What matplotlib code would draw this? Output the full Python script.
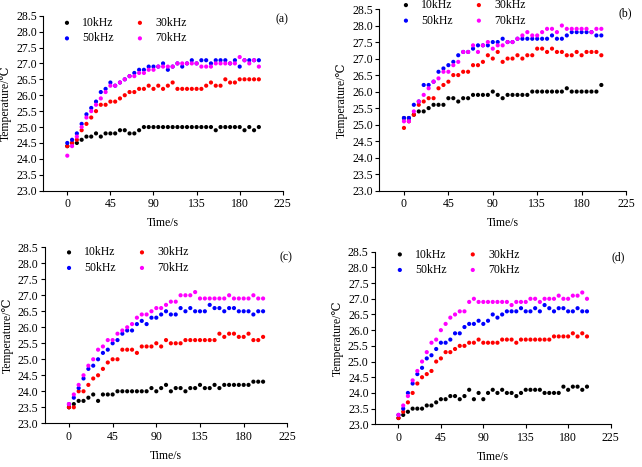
import matplotlib
matplotlib.use("Agg")
import matplotlib.pyplot as plt

plt.rcParams["font.family"] = ["Liberation Serif", "DejaVu Serif"]

TIME = [0, 5, 10, 15, 20, 25, 30, 35, 40, 45, 50, 55, 60, 65, 70, 75, 80, 85, 90, 95,
        100, 105, 110, 115, 120, 125, 130, 135, 140, 145, 150, 155, 160, 165, 170, 175,
        180, 185, 190, 195, 200]

LABELS = ["10kHz", "30kHz", "50kHz", "70kHz"]
COLORS = ["black", "#ff0000", "#0000ff", "#ff00ff"]

# panel (a)
A10 = [24.4, 24.5, 24.5, 24.6, 24.7, 24.7, 24.8, 24.7, 24.8, 24.8, 24.8, 24.9, 24.9, 24.8, 24.8, 24.9, 25.0, 25.0, 25.0, 25.0,
       25.0, 25.0, 25.0, 25.0, 25.0, 25.0, 25.0, 25.0, 25.0, 25.0, 25.0, 24.9, 25.0, 25.0, 25.0, 25.0, 25.0, 24.9, 25.0, 24.9, 25.0]
A30 = [24.4, 24.5, 24.6, 24.9, 25.1, 25.3, 25.5, 25.7, 25.7, 25.8, 25.8, 25.9, 26.0, 26.1, 26.1, 26.2, 26.2, 26.3, 26.2, 26.3,
       26.2, 26.3, 26.4, 26.2, 26.2, 26.2, 26.2, 26.2, 26.2, 26.3, 26.4, 26.3, 26.3, 26.5, 26.4, 26.4, 26.5, 26.5, 26.5, 26.5, 26.5]
A50 = [24.5, 24.6, 24.8, 25.1, 25.4, 25.6, 25.8, 26.1, 26.2, 26.4, 26.3, 26.4, 26.5, 26.6, 26.7, 26.8, 26.8, 26.9, 26.9, 26.9,
       27.0, 26.8, 26.9, 27.0, 26.9, 27.0, 27.1, 27.0, 27.1, 27.1, 27.0, 27.1, 27.1, 27.1, 27.0, 27.1, 26.9, 27.1, 27.1, 27.1, 27.1]
A70 = [24.1, 24.4, 24.7, 25.0, 25.3, 25.5, 25.7, 25.9, 26.1, 26.3, 26.3, 26.4, 26.5, 26.6, 26.6, 26.7, 26.7, 26.8, 26.8, 26.9,
       26.9, 26.9, 26.9, 27.0, 27.0, 27.0, 27.0, 27.0, 26.9, 26.9, 26.9, 27.0, 27.0, 27.0, 27.0, 27.0, 27.2, 27.1, 27.0, 27.1, 26.9]

# panel (b)
B10 = [25.2, 25.2, 25.3, 25.4, 25.4, 25.5, 25.6, 25.6, 25.6, 25.8, 25.8, 25.7, 25.8, 25.8, 25.9, 25.9, 25.9, 25.9, 26.0, 25.9,
       25.8, 25.9, 25.9, 25.9, 25.9, 25.9, 26.0, 26.0, 26.0, 26.0, 26.0, 26.0, 26.0, 26.1, 26.0, 26.0, 26.0, 26.0, 26.0, 26.0, 26.2]
B30 = [24.9, 25.1, 25.3, 25.6, 25.7, 25.8, 25.8, 26.1, 26.2, 26.3, 26.5, 26.5, 26.6, 26.6, 26.8, 26.8, 26.9, 27.1, 27.0, 27.2,
       26.9, 27.0, 27.0, 27.1, 27.0, 27.1, 27.1, 27.3, 27.3, 27.2, 27.3, 27.2, 27.2, 27.1, 27.1, 27.2, 27.1, 27.2, 27.2, 27.2, 27.1]
B50 = [25.2, 25.2, 25.6, 25.7, 26.2, 26.2, 26.3, 26.6, 26.7, 26.8, 26.9, 27.1, 27.2, 27.2, 27.3, 27.4, 27.4, 27.4, 27.5, 27.5,
       27.6, 27.5, 27.5, 27.6, 27.6, 27.6, 27.6, 27.6, 27.6, 27.6, 27.7, 27.6, 27.6, 27.7, 27.8, 27.8, 27.8, 27.8, 27.8, 27.7, 27.7]
B70 = [25.1, 25.1, 25.4, 25.7, 25.9, 26.1, 26.3, 26.4, 26.6, 26.6, 26.8, 26.9, 27.2, 27.2, 27.4, 27.2, 27.4, 27.5, 27.3, 27.4,
       27.4, 27.5, 27.5, 27.6, 27.7, 27.8, 27.7, 27.7, 27.8, 27.9, 27.9, 27.8, 28.0, 27.9, 27.9, 27.9, 27.9, 27.9, 27.8, 27.9, 27.9]

# panel (c)
C10 = [23.5, 23.6, 23.7, 23.7, 23.8, 23.9, 23.7, 23.9, 23.9, 23.9, 24.0, 24.0, 24.0, 24.0, 24.0, 24.0, 24.0, 24.1, 24.0, 24.1,
       24.2, 24.0, 24.1, 24.1, 24.0, 24.1, 24.1, 24.2, 24.1, 24.1, 24.2, 24.1, 24.2, 24.2, 24.2, 24.2, 24.2, 24.2, 24.3, 24.3, 24.3]
C30 = [23.5, 23.5, 24.0, 24.0, 24.2, 24.4, 24.5, 24.7, 24.9, 25.0, 25.0, 25.3, 25.3, 25.3, 25.2, 25.4, 25.4, 25.4, 25.5, 25.4,
       25.6, 25.5, 25.5, 25.5, 25.6, 25.6, 25.6, 25.6, 25.6, 25.6, 25.6, 25.8, 25.7, 25.8, 25.8, 25.7, 25.7, 25.8, 25.6, 25.6, 25.7]
C50 = [23.6, 23.8, 24.1, 24.4, 24.7, 24.8, 25.0, 25.2, 25.3, 25.5, 25.6, 25.8, 25.9, 25.9, 26.1, 26.2, 26.1, 26.3, 26.3, 26.4,
       26.5, 26.4, 26.4, 26.6, 26.5, 26.6, 26.5, 26.5, 26.5, 26.7, 26.6, 26.6, 26.5, 26.6, 26.6, 26.5, 26.5, 26.5, 26.4, 26.5, 26.5]
C70 = [23.6, 23.9, 24.2, 24.5, 24.8, 25.0, 25.3, 25.4, 25.6, 25.6, 25.8, 25.9, 26.0, 26.1, 26.3, 26.4, 26.4, 26.5, 26.6, 26.6,
       26.7, 26.8, 26.8, 27.0, 27.0, 27.0, 27.1, 26.9, 26.9, 26.9, 26.9, 26.9, 26.9, 27.0, 26.9, 26.9, 26.9, 26.9, 27.0, 26.9, 26.9]

# panel (d)
D10 = [23.2, 23.3, 23.4, 23.5, 23.5, 23.5, 23.6, 23.6, 23.7, 23.8, 23.8, 23.9, 23.9, 23.8, 23.9, 24.1, 23.8, 24.0, 23.8, 24.0,
       24.1, 24.0, 24.1, 24.0, 24.0, 23.9, 24.0, 24.1, 24.1, 24.1, 24.1, 24.0, 24.0, 24.0, 24.0, 24.2, 24.1, 24.2, 24.2, 24.1, 24.2]
D30 = [23.2, 23.4, 23.7, 24.0, 24.3, 24.5, 24.6, 24.7, 25.0, 25.1, 25.3, 25.3, 25.4, 25.5, 25.5, 25.6, 25.6, 25.7, 25.6, 25.6,
       25.6, 25.6, 25.7, 25.7, 25.7, 25.6, 25.7, 25.7, 25.7, 25.7, 25.7, 25.7, 25.7, 25.8, 25.8, 25.8, 25.8, 25.9, 25.8, 25.9, 25.8]
D50 = [23.3, 23.5, 24.0, 24.3, 24.6, 24.8, 25.1, 25.2, 25.4, 25.6, 25.6, 25.7, 25.9, 25.9, 26.1, 26.2, 26.2, 26.3, 26.2, 26.3,
       26.5, 26.4, 26.5, 26.6, 26.6, 26.6, 26.7, 26.6, 26.6, 26.7, 26.6, 26.8, 26.7, 26.6, 26.7, 26.7, 26.6, 26.6, 26.7, 26.6, 26.6]
D70 = [23.3, 23.6, 23.9, 24.4, 24.7, 25.0, 25.3, 25.6, 25.7, 26.0, 26.2, 26.4, 26.5, 26.6, 26.6, 26.9, 27.0, 26.9, 26.9, 26.9,
       26.9, 26.9, 26.9, 26.9, 26.8, 26.9, 26.9, 26.9, 27.0, 27.0, 26.9, 27.0, 27.0, 27.0, 27.1, 27.0, 27.0, 27.1, 27.1, 27.2, 27.0]

XTICKS = [0, 45, 90, 135, 180, 225]
YTICKS = [23.0, 23.5, 24.0, 24.5, 25.0, 25.5, 26.0, 26.5, 27.0, 27.5, 28.0, 28.5]

# (tag, data, axes rect, legend anchor, tag position)
PANELS = [
    ("(a)", [A10, A30, A50, A70], [0.0675, 0.5917, 0.373, 0.3747], (0.074, 0.993), (0.997, 0.981)),
    ("(b)", [B10, B30, B50, B70], [0.5908, 0.5917, 0.3843, 0.389], (0.084, 1.054), (0.996, 0.978)),
    ("(c)", [C10, C30, C50, C70], [0.0696, 0.0936, 0.378, 0.3769], (0.076, 1.0045), (0.995, 0.943)),
    ("(d)", [D10, D30, D50, D70], [0.584, 0.0914, 0.367, 0.3696], (0.0806, 1.0185), (1.032, 0.965)),
]

fig = plt.figure(figsize=(6.42, 4.67), dpi=100)

for tag, series, rect, leg_anchor, tag_pos in PANELS:
    ax = fig.add_axes(rect)
    handles = []
    for vals, label, color in zip(series, LABELS, COLORS):
        h = ax.scatter(TIME, vals, s=9, color=color, edgecolors="none", label=label, zorder=3)
        handles.append(h)
    ax.set_xlim(-25, 225)
    ax.set_ylim(23.0, 28.5)
    ax.set_xticks(XTICKS)
    ax.set_yticks(YTICKS)
    ax.set_yticklabels([f"{v:.1f}" for v in YTICKS])
    ax.spines["top"].set_visible(False)
    ax.spines["right"].set_visible(False)
    for s in ("left", "bottom"):
        ax.spines[s].set_linewidth(0.8)
    ax.tick_params(axis="both", labelsize=8.5, length=3, width=0.8, direction="out")
    ax.tick_params(axis="x", pad=2.5)
    ax.tick_params(axis="y", pad=1.5)
    ax.set_xlabel("Time/s", fontsize=8.5, labelpad=5)
    ax.set_ylabel("Temperature/℃", fontsize=8.5, labelpad=3)
    # column-major legend: 10/50 left, 30/70 right
    order = [0, 2, 1, 3]
    ax.legend([handles[i] for i in order], [LABELS[i] for i in order],
              ncol=2, loc="upper left", bbox_to_anchor=leg_anchor, frameon=False,
              fontsize=8.5, handlelength=1.0, handletextpad=0.8, columnspacing=1.7,
              labelspacing=0.3, borderpad=0, borderaxespad=0, scatterpoints=1)
    ax.text(tag_pos[0], tag_pos[1], tag, transform=ax.transAxes, fontsize=8.5,
            ha="center", va="center")

fig.savefig("out.png", dpi=100)
